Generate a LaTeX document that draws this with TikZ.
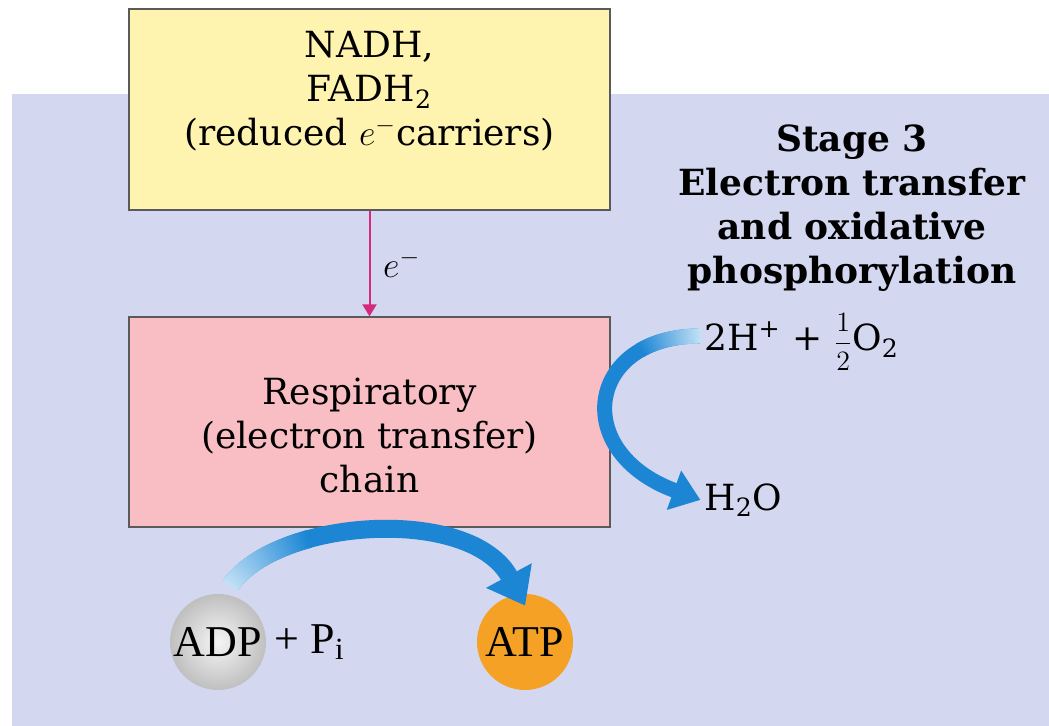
\RequirePackage{fix-cm}
\documentclass[tikz,border=0pt]{standalone}
\usepackage{fontspec}
\usepackage{amsmath}
\setmainfont{DejaVu Serif}
\newfontfamily\timesfont{Liberation Serif}
\usetikzlibrary{arrows.meta,positioning,decorations.markings}
\definecolor{bgblue}{HTML}{D3D8F0}
\definecolor{carrierfill}{HTML}{FFF3B0}
\definecolor{chainfill}{HTML}{F9BDC4}
\definecolor{edge}{HTML}{5A5A5A}
\definecolor{emag}{HTML}{D42A7E}
\definecolor{flow}{HTML}{1C86D5}
\definecolor{flowlt}{HTML}{C4E2F6}
\definecolor{atpfill}{HTML}{F4A125}
\newcommand{\bigtxt}{\fontsize{18}{22}\selectfont}
\newcommand{\balltxt}{\timesfont\fontsize{22}{26}\selectfont}
\newcommand{\half}{{\fontsize{14}{14}\selectfont$\dfrac{1}{2}$}}
\tikzset{
  box/.style={draw=edge,line width=0.6pt,minimum width=240.5pt,inner sep=0pt},
  cbox/.style={box,fill=carrierfill,minimum height=100.5pt},
  rbox/.style={box,fill=chainfill,minimum height=105pt},
  txt/.style={align=center,font=\bigtxt,inner sep=2pt},
  ball/.style={circle,minimum size=48pt,inner sep=0pt,font=\balltxt},
  ear/.style={-{Triangle[length=6pt,width=7pt]},line width=1pt,draw=emag},
  far/.style={draw=flow,line width=#1},
  fadein/.style={postaction={decorate,decoration={markings,
    mark=between positions 0 and #1 step 0.5pt with {
      \pgfmathsetmacro\fadeval{min(100,100*\pgfkeysvalueof{/pgf/decoration/mark info/sequence number}*0.5/(#1*\pgfdecoratedpathlength))}
      \fill[flow!\fadeval!flowlt] (-0.4pt,-0.5*\pgflinewidth) rectangle (0.4pt,0.5*\pgflinewidth);}}}},
  fhead/.style 2 args={postaction={decorate,decoration={markings,
    mark=at position 0.999 with {\fill[flow] (-1pt,#2/2) -- (#1,0) -- (-1pt,-#2/2) -- cycle;}}}},
}
\begin{document}
\begin{tikzpicture}[x=0.5pt,y=0.5pt]
\useasboundingbox (0,0) rectangle (1049,726);
\fill[bgblue] (12,0) rectangle (1049,632);
% boxes
\node[cbox] (carriers) at (369.5,616.5) {};
\node[txt] (carrierstxt) at ([yshift=9pt]carriers.center) {NADH,\\FADH\textsubscript{2}\\(reduced $e^-$carriers)};
\node[rbox] (chain) at (369.5,304) {};
\node[txt] (chaintxt) at ([yshift=-7pt]chain.center) {Respiratory\\(electron transfer)\\chain};
\draw[ear] (carriers) -- node[right=3pt,font=\bigtxt] (elabel) {$e^-$} (chain);
% stage title
\node[txt,font=\bigtxt\bfseries] (stage) at (852,518) {Stage 3\\Electron transfer\\and oxidative\\phosphorylation};
% oxygen to water
\node[txt,anchor=west] (oxygen) at (700,384) {2H\textsuperscript{+} + \half O\textsubscript{2}};
\node[txt,anchor=west] (water) at (700,226) {H\textsubscript{2}O};
% ADP to ATP
\node[ball,inner color=gray!8,outer color=gray!50] (adp) at (218,84) {ADP};
\node[right=3pt of adp,font=\balltxt,inner sep=1pt] (pi) {+ P\textsubscript{i}};
\node[ball,fill=atpfill] (atp) at (525,84) {ATP};
\draw[far=9pt,fadein=0.3,fhead={16pt}{26pt}] ([yshift=5pt]adp.75) to[out=55,in=118,looseness=0.75] ([shift={(-7.5pt,8pt)}]atp.north);
\draw[far=7.5pt,fadein=0.25,fhead={13pt}{21pt}] ([yshift=3pt]oxygen.west) to[out=180,in=160,looseness=1.85] ([shift={(-12pt,4.5pt)}]water.west);
\end{tikzpicture}
\end{document}
